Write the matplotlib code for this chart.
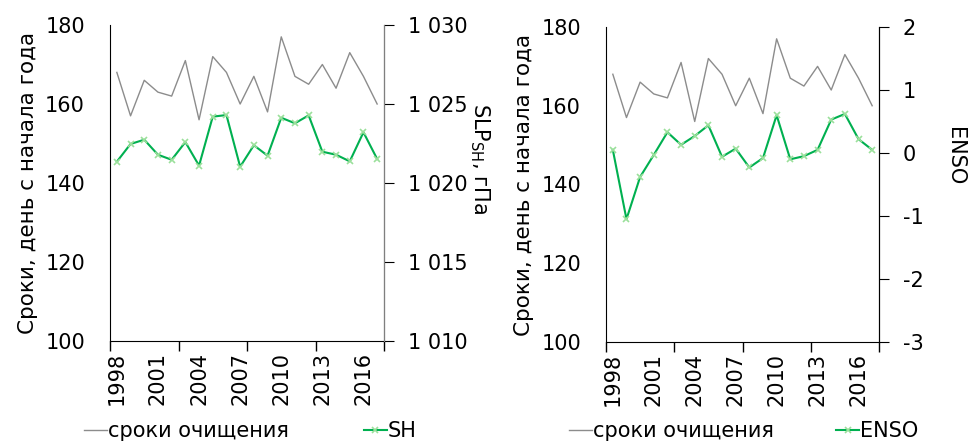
import numpy as np
import matplotlib.pyplot as plt

plt.rcParams['font.family'] = ['DejaVu Sans']
plt.rcParams['axes.unicode_minus'] = False

years = list(range(1998, 2018))
# сроки очищения, день с начала года
clear_day = [168, 157, 166, 163, 162, 171, 156, 172, 168, 160,
             167, 158, 177, 167, 165, 170, 164, 173, 167, 160]
# SLP Сибирского антициклона, гПа
slp_sh = [1021.35, 1022.47, 1022.74, 1021.79, 1021.47, 1022.59, 1021.1, 1024.2, 1024.3, 1021.03,
          1022.39, 1021.73, 1024.13, 1023.78, 1024.28, 1021.98, 1021.79, 1021.37, 1023.21, 1021.52]
# индекс ENSO
enso = [0.05, -1.05, -0.38, -0.03, 0.33, 0.13, 0.27, 0.44, -0.06, 0.07,
        -0.23, -0.08, 0.60, -0.10, -0.05, 0.05, 0.53, 0.62, 0.22, 0.05]

label_years = years[::3]
fs = 15
gray = '#8c8c8c'
green = '#00b050'
mark = '#9be09b'

fig = plt.figure(figsize=(9.71, 4.42), dpi=100)
x = np.arange(len(years))


def make_panel(rect, right_vals, right_lim, right_ticks, right_fmt, right_label, name,
               legend_x, label_xy, colsp):
    ax = fig.add_axes(rect)
    l1, = ax.plot(x, clear_day, color=gray, lw=1.0, label='сроки очищения')
    ax.set_ylim(100, 180)
    ax.set_yticks([100, 120, 140, 160, 180])
    ax.set_xlim(-0.5, len(years) - 0.5)
    ax.set_xticks([-0.5, 4.5, 9.5, 14.5, 19.5])
    ax.set_xticklabels([])
    ax.set_xticks([years.index(y) for y in label_years], minor=True)
    ax.set_xticklabels([str(y) for y in label_years], minor=True, rotation=90, fontsize=fs)
    ax.tick_params(axis='x', which='minor', length=0, pad=8)
    ax.tick_params(axis='x', which='major', length=7, direction='out', width=1)
    ax.tick_params(axis='y', length=0, labelsize=fs, pad=18)
    ax.spines['top'].set_visible(False)
    ax.set_ylabel('Сроки, день с начала года', fontsize=15.5, labelpad=5)

    ax2 = ax.twinx()
    l2, = ax2.plot(x, right_vals, color=green, lw=1.5, marker='x', ms=5,
                   mec=mark, mew=1.2, label=name)
    ax2.set_ylim(*right_lim)
    ax2.set_yticks(right_ticks)
    ax2.set_yticklabels([right_fmt(v) for v in right_ticks])
    ax2.tick_params(axis='y', length=7, direction='out', labelsize=fs, pad=10)
    for s in ['top', 'left', 'bottom']:
        ax2.spines[s].set_visible(False)
    ax2.set_ylabel(right_label, fontsize=fs, rotation=-90, va='bottom')
    ax2.yaxis.set_label_coords(*label_xy)
    fig.legend([l1, l2], ['сроки очищения', name], loc='center',
               bbox_to_anchor=(legend_x, 0.025), ncol=2, frameon=False,
               fontsize=fs, handlelength=1.1, handletextpad=0.05,
               columnspacing=colsp, borderaxespad=0)
    return ax, ax2


def slp_fmt(v):
    return '1 ' + '%03d' % (v - 1000)


axL, axL2 = make_panel([110 / 971, 101 / 442, 274 / 971, 316 / 442], slp_sh, (1010, 1030),
                       [1010, 1015, 1020, 1025, 1030], slp_fmt,
                       r'SLP$_{\mathrm{SH}}$, гПа', 'SH', 0.258, (1.305, 0.576), 3.6)
axL2.spines['right'].set_color('#7f7f7f')

axR, axR2 = make_panel([606 / 971, 100 / 442, 273 / 971, 315 / 442], enso, (-3, 2),
                       [-3, -2, -1, 0, 1, 2], lambda v: '%d' % v,
                       'ENSO', 'ENSO', 0.766, (1.242, 0.59), 3.0)

fig.savefig('out.png', dpi=100)
